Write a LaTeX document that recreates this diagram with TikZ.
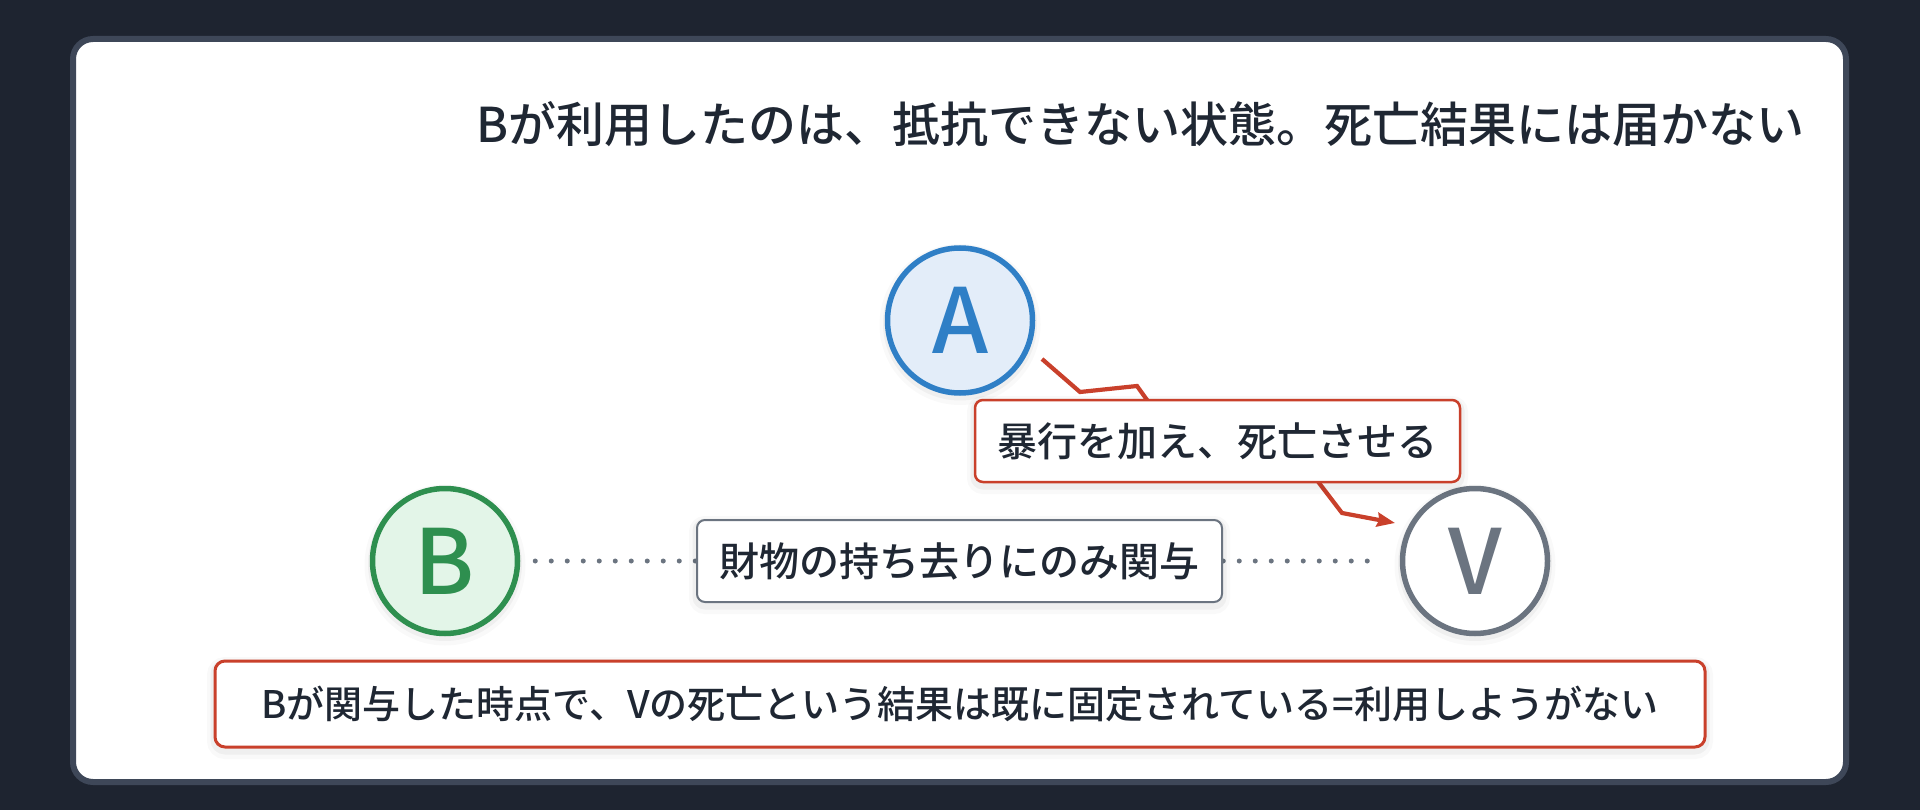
\documentclass[tikz,border=0pt]{standalone}
\usepackage{fontspec}
\setmainfont{Noto Sans CJK JP}[UprightFont=* Medium, BoldFont=* Bold]
\usetikzlibrary{arrows.meta}
\definecolor{bg}{HTML}{1E2430}
\definecolor{cardline}{HTML}{3E4758}
\definecolor{ink}{HTML}{1F2733}
\definecolor{blueA}{HTML}{2F7FC6}
\definecolor{blueF}{HTML}{E3EDF9}
\definecolor{greenB}{HTML}{2E8F4F}
\definecolor{greenF}{HTML}{E3F5E8}
\definecolor{grayV}{HTML}{6B7480}
\definecolor{redL}{HTML}{C9402B}
\tikzset{
  softshadow/.style={
    preaction={draw=black, draw opacity=0.025, line width=16pt, transform canvas={yshift=-4pt}},
    preaction={draw=black, draw opacity=0.04, line width=9pt, transform canvas={yshift=-3pt}}},
  card/.style={draw=cardline, fill=white, line width=6pt, rounded corners=20pt},
  person/.style={circle, minimum size=145pt, inner sep=0pt, line width=5.5pt,
    softshadow, font=\fontsize{90}{100}\selectfont},
  labelbox/.style={rectangle, rounded corners=8pt, fill=white, text=ink,
    inner sep=0pt, minimum height=82pt, softshadow, font=\fontsize{40}{48}\selectfont},
  dotline/.style={draw=grayV, line width=5pt, line cap=round,
    dash pattern=on 0pt off 16pt},
  redarrow/.style={draw=redL, line width=4.2pt, line join=miter,
    -{Stealth[length=18pt,width=14pt,inset=2pt]}},
  titletext/.style={text=ink, inner sep=0pt, font=\fontsize{48}{56}\selectfont}
}
\begin{document}
\begin{tikzpicture}[x=1pt,y=-1pt]
\useasboundingbox (0,0) rectangle (1920,810);
\fill[bg] (0,0) rectangle (1920,810);
\draw[card] (73,39) rectangle (1846,782);

\node[titletext, anchor=east] (title) at (1805,124) {Bが利用したのは、抵抗できない状態。死亡結果には届かない};

\node[person, draw=blueA, fill=blueF, text=blueA] (A) at (960,320.5) {A};
\node[person, draw=greenB, fill=greenF, text=greenB] (B) at (445,561) {B};
\node[person, draw=grayV, fill=white, text=grayV] (V) at (1475,561) {V};

\draw[dotline, shorten <=15pt, shorten >=30pt] (B) -- (V);

\coordinate (z0) at (1042,359);
\coordinate (z1) at (1080,392);
\coordinate (z2) at (1137,386);
\coordinate (z3) at (1165,425);
\coordinate (z4) at (1290,445);
\coordinate (z5) at (1342,513);
\coordinate (tip) at (1395,523);
\draw[redarrow] (z0) -- (z1) -- (z2) -- (z3) -- (z4) -- (z5) -- (tip);

\node[labelbox, draw=redL, line width=2.5pt, minimum width=485pt] (act) at (1217.5,441) {暴行を加え、死亡させる};
\node[labelbox, draw=grayV, line width=2pt, minimum width=525pt] (take) at (959.5,561) {財物の持ち去りにのみ関与};
\node[labelbox, draw=redL, line width=3pt, minimum width=1490pt, minimum height=86pt,
  rounded corners=10pt, font=\fontsize{38}{46}\selectfont] (note) at (960,704)
  {Bが関与した時点で、Vの死亡という結果は既に固定されている=利用しようがない};
\end{tikzpicture}
\end{document}
